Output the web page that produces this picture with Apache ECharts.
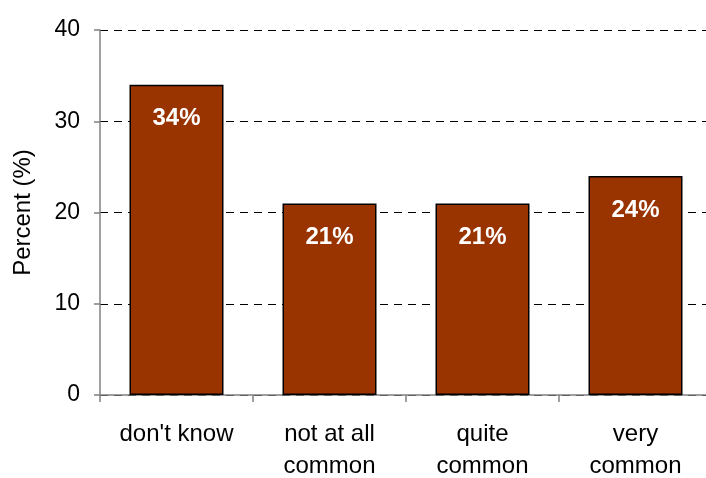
<!DOCTYPE html>
<html><head><meta charset="utf-8">
<script src="https://cdn.jsdelivr.net/npm/echarts@6/dist/echarts.min.js"></script>
<style>html,body{margin:0;padding:0;background:#fff}#c{width:706px;height:478px}</style>
</head><body><div id="c"></div>
<script>
const categories = ["don't know", "not at all\ncommon", "quite\ncommon", "very\ncommon"];
const values = [34, 21, 21, 24];
const yTicks = [0, 10, 20, 30, 40];

const chart = echarts.init(document.getElementById('c'), null, {renderer: 'canvas'});
const font = '"Liberation Sans", Arial, sans-serif';
chart.setOption({
  animation: false,
  backgroundColor: '#fff',
  grid: {left: 100, top: 30, width: 612, height: 365, containLabel: false, outerBoundsMode: 'none'},
  xAxis: {
    type: 'category', data: categories,
    axisLine: {show: true, lineStyle: {color: '#808080', width: 1.5}},
    axisTick: {show: true, alignWithLabel: false, length: 7, lineStyle: {color: '#808080', width: 1.5}},
    axisLabel: {color: '#000', fontSize: 24, fontFamily: font, lineHeight: 32, margin: 23, interval: 0},
    splitLine: {show: false}
  },
  yAxis: {
    type: 'value', min: yTicks[0], max: yTicks[yTicks.length - 1], interval: 10,
    name: 'Percent (%)', nameLocation: 'middle', nameGap: 65, nameRotate: 90,
    nameTextStyle: {color: '#000', fontSize: 24, fontFamily: font},
    axisLine: {show: true, lineStyle: {color: '#808080', width: 1.5}},
    axisTick: {show: true, inside: false, length: 6, lineStyle: {color: '#808080', width: 1.5}},
    axisLabel: {color: '#000', fontSize: 23, fontFamily: font, margin: 20},
    splitLine: {show: true, lineStyle: {color: '#000', type: [8, 6], width: 1}}
  },
  series: [{
    type: 'bar', data: values, barWidth: 94,
    itemStyle: {color: '#993300', borderColor: '#000', borderWidth: 1.5},
    label: {show: true, position: 'insideTop', distance: 22, formatter: '{c}%',
      color: '#fff', fontWeight: 'bold', fontSize: 24, fontFamily: font}
  }]
});
</script></body></html>
